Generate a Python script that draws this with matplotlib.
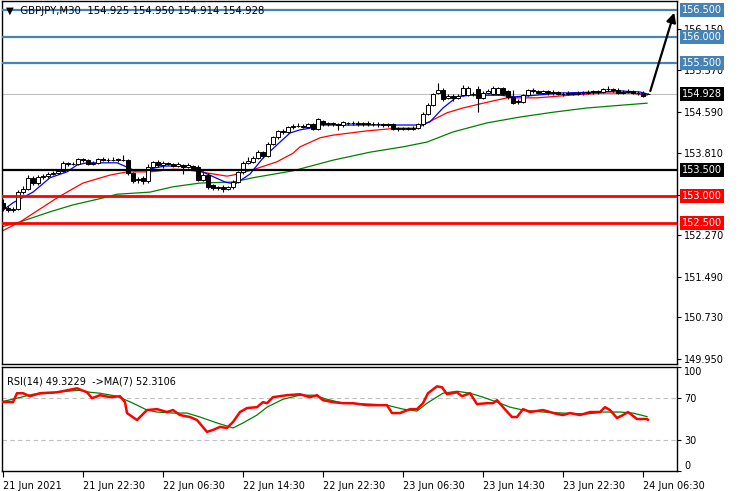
import matplotlib
matplotlib.use("Agg")
import matplotlib.pyplot as plt
from matplotlib.transforms import blended_transform_factory

# GBPJPY M30 bars (bar 0 = 21 Jun 14:30)
opens = [152.88, 152.78, 152.74, 152.76, 153.08, 153.14, 153.34, 153.26, 153.36, 153.38,
         153.42, 153.44, 153.47, 153.62, 153.60, 153.60, 153.70, 153.68, 153.60, 153.63,
         153.70, 153.68, 153.69, 153.68, 153.69, 153.68, 153.44, 153.30, 153.34, 153.28,
         153.56, 153.65, 153.58, 153.62, 153.60, 153.57, 153.58, 153.56, 153.57, 153.55,
         153.30, 153.40, 153.22, 153.15, 153.17, 153.14, 153.17, 153.27, 153.45, 153.63,
         153.65, 153.72, 153.84, 153.76, 153.98, 154.11, 154.22, 154.21, 154.30, 154.32,
         154.33, 154.30, 154.35, 154.27, 154.42, 154.36, 154.37, 154.36, 154.34, 154.38,
         154.37, 154.38, 154.36, 154.37, 154.35, 154.36, 154.35, 154.34, 154.35, 154.28,
         154.26, 154.28, 154.27, 154.29, 154.35, 154.55, 154.72, 154.95, 155.00, 154.85,
         154.88, 154.85, 154.90, 154.90, 154.93, 155.02, 154.85, 154.95, 154.92, 154.93,
         155.03, 154.98, 154.86, 154.78, 154.78, 154.90, 155.00, 154.97, 154.95, 154.97,
         154.94, 154.96, 154.93, 154.92, 154.94, 154.93, 154.95, 154.94, 154.96, 154.97,
         154.96, 155.01, 155.02, 155.00, 154.94, 154.96, 154.98, 154.95, 154.95, 154.925]
highs = [152.95, 152.82, 152.80, 153.12, 153.20, 153.40, 153.38, 153.40, 153.42, 153.45,
         153.48, 153.50, 153.66, 153.64, 153.65, 153.72, 153.72, 153.70, 153.66, 153.72,
         153.73, 153.72, 153.73, 153.72, 153.78, 153.70, 153.46, 153.36, 153.38, 153.60,
         153.66, 153.68, 153.67, 153.64, 153.63, 153.64, 153.60, 153.62, 153.59, 153.58,
         153.48, 153.44, 153.24, 153.20, 153.22, 153.20, 153.30, 153.48, 153.66, 153.74,
         153.76, 153.88, 153.86, 154.02, 154.14, 154.25, 154.26, 154.33, 154.35, 154.38,
         154.36, 154.38, 154.37, 154.48, 154.44, 154.40, 154.40, 154.38, 154.41, 154.40,
         154.41, 154.42, 154.40, 154.42, 154.39, 154.40, 154.38, 154.38, 154.37, 154.30,
         154.31, 154.30, 154.32, 154.38, 154.58, 154.75, 154.95, 155.12, 155.04, 154.92,
         154.92, 154.92, 155.10, 155.08, 154.96, 155.08, 154.98, 155.02, 155.08, 155.06,
         155.05, 155.00, 155.00, 154.82, 154.93, 155.02, 155.03, 155.00, 155.00, 155.00,
         154.99, 154.98, 154.96, 154.97, 154.96, 154.98, 154.98, 154.99, 155.00, 155.00,
         155.04, 155.08, 155.04, 155.03, 155.00, 155.01, 155.00, 154.98, 154.97, 154.950]
lows = [152.72, 152.70, 152.71, 152.74, 153.04, 153.12, 153.22, 153.22, 153.33, 153.35,
        153.40, 153.42, 153.45, 153.57, 153.58, 153.58, 153.65, 153.58, 153.58, 153.61,
        153.66, 153.65, 153.66, 153.65, 153.66, 153.40, 153.25, 153.26, 153.24, 153.26,
        153.53, 153.55, 153.54, 153.58, 153.55, 153.55, 153.42, 153.54, 153.50, 153.28,
        153.28, 153.14, 153.12, 153.12, 153.08, 153.12, 153.14, 153.25, 153.42, 153.60,
        153.62, 153.70, 153.72, 153.74, 153.96, 154.08, 154.17, 154.19, 154.27, 154.30,
        154.28, 154.28, 154.25, 154.25, 154.33, 154.33, 154.32, 154.24, 154.31, 154.34,
        154.34, 154.33, 154.33, 154.32, 154.32, 154.31, 154.31, 154.30, 154.25, 154.23,
        154.24, 154.24, 154.25, 154.27, 154.33, 154.52, 154.70, 154.93, 154.79, 154.83,
        154.80, 154.82, 154.88, 154.88, 154.89, 154.58, 154.82, 154.93, 154.90, 154.90,
        154.90, 154.83, 154.73, 154.74, 154.76, 154.88, 154.95, 154.92, 154.92, 154.91,
        154.91, 154.90, 154.88, 154.90, 154.90, 154.91, 154.91, 154.92, 154.93, 154.93,
        154.94, 154.98, 154.96, 154.92, 154.92, 154.94, 154.92, 154.91, 154.86, 154.914]
closes = [152.78, 152.74, 152.76, 153.08, 153.14, 153.34, 153.26, 153.36, 153.38, 153.42,
          153.44, 153.47, 153.62, 153.60, 153.61, 153.70, 153.68, 153.60, 153.63, 153.70,
          153.68, 153.69, 153.68, 153.70, 153.68, 153.44, 153.28, 153.33, 153.28, 153.56,
          153.64, 153.58, 153.63, 153.60, 153.57, 153.60, 153.55, 153.58, 153.53, 153.30,
          153.40, 153.17, 153.15, 153.17, 153.14, 153.17, 153.27, 153.45, 153.63, 153.66,
          153.72, 153.84, 153.76, 153.98, 154.11, 154.22, 154.21, 154.30, 154.32, 154.33,
          154.31, 154.35, 154.27, 154.45, 154.36, 154.37, 154.35, 154.34, 154.39, 154.37,
          154.38, 154.36, 154.37, 154.35, 154.36, 154.35, 154.34, 154.35, 154.27, 154.26,
          154.28, 154.27, 154.29, 154.35, 154.55, 154.72, 154.92, 155.00, 154.82, 154.88,
          154.84, 154.88, 155.03, 155.04, 154.92, 154.85, 154.95, 154.98, 155.04, 155.03,
          154.93, 154.86, 154.76, 154.79, 154.90, 155.00, 154.98, 154.95, 154.97, 154.94,
          154.96, 154.93, 154.92, 154.94, 154.93, 154.95, 154.94, 154.96, 154.97, 154.96,
          155.01, 155.02, 154.99, 154.94, 154.96, 154.98, 154.95, 154.94, 154.89, 154.928]

# moving averages (bar position, price)
ma_fast_x = [0, 2, 6, 9.4, 12.8, 14.8, 16.8, 22.8, 24.8, 26.4, 28.4, 32.4, 37.4, 40.4, 44.4,
             46.4, 49.4, 52, 55.4, 57.4, 59.4, 61.4, 63.4, 83.4, 85.4, 88, 90.8, 93.4, 99.4,
             102.4, 105.4, 111.4, 119.4, 123.4, 127.4, 129]
ma_fast_y = [152.74, 152.88, 153.08, 153.35, 153.46, 153.59, 153.63, 153.63, 153.55, 153.48,
             153.50, 153.57, 153.57, 153.44, 153.27, 153.23, 153.42, 153.72, 154.02, 154.19,
             154.25, 154.28, 154.34, 154.34, 154.40, 154.66, 154.87, 154.90, 154.90, 154.87,
             154.89, 154.94, 154.96, 154.98, 154.96, 154.92]
ma_mid_x = [-0.6, 3.4, 10.8, 12.8, 16, 21.4, 24.8, 29.4, 34, 36.8, 40.8, 44.8, 46, 50, 54.8,
            58, 59.4, 63.4, 66, 72.8, 78.8, 82.8, 84.8, 88.8, 92, 96, 100.8, 106.8, 113.4,
            120, 125.4, 128.8]
ma_mid_y = [152.33, 152.52, 152.97, 153.08, 153.25, 153.40, 153.46, 153.46, 153.51, 153.50,
            153.44, 153.38, 153.40, 153.50, 153.65, 153.81, 153.93, 154.10, 154.15, 154.23,
            154.28, 154.28, 154.38, 154.57, 154.66, 154.75, 154.85, 154.85, 154.90, 154.94,
            154.94, 154.90]
ma_slow_x = [-0.6, 3.4, 9.4, 14, 20, 22.8, 29.4, 34, 39.4, 46, 50, 58, 66, 73.4, 80, 84.8, 90,
             96.8, 103.4, 110, 116.8, 123.4, 128.8]
ma_slow_y = [152.42, 152.52, 152.71, 152.84, 152.97, 153.04, 153.08, 153.18, 153.25, 153.27,
             153.35, 153.48, 153.68, 153.83, 153.93, 154.02, 154.21, 154.38, 154.49, 154.58,
             154.66, 154.71, 154.75]

# RSI(14) and its MA(7)
rsi_x = [-0.6, 2, 2.8, 4, 5.4, 7.4, 10.8, 12.8, 14.8, 16.8, 17.8, 19.4, 21.4, 23.4, 24.4, 24.8,
         26.8, 28.8, 30.8, 32.8, 34, 35.4, 37.4, 38.8, 40.8, 42, 43.4, 44.8, 46, 47.4, 48.8,
         50.8, 52, 52.8, 54, 56.8, 59.4, 61.4, 62.8, 64, 66, 68, 70, 72.8, 76.8, 77.8, 79.4,
         81.4, 82.8, 84, 85, 86.8, 87.8, 88.8, 90.8, 91.8, 93.4, 94.8, 96.8, 98, 98.8, 100,
         101.8, 102.8, 104, 105.4, 108, 110.8, 112, 113.4, 115.4, 117.4, 119.4, 120.4, 121.4,
         122.8, 124, 125, 126.8, 128.8, 129]
rsi_y = [66.5, 66.2, 74.8, 74.8, 71.9, 74.8, 75.7, 77.6, 79.5, 75.7, 70.0, 72.9, 71.0, 71.9,
         66.2, 55.7, 49.0, 58.6, 59.5, 56.7, 58.6, 53.8, 51.9, 49.0, 37.6, 39.5, 42.4, 41.4,
         47.1, 56.7, 60.5, 61.4, 66.2, 65.2, 71.0, 72.9, 73.8, 71.0, 72.9, 68.1, 66.2, 65.2,
         65.2, 63.3, 63.3, 55.7, 55.7, 59.5, 59.5, 65.2, 74.8, 81.4, 80.5, 73.8, 75.7, 71.9,
         74.8, 64.3, 65.2, 65.2, 68.1, 61.4, 51.9, 51.9, 59.5, 56.7, 58.6, 54.8, 53.8, 55.7,
         53.8, 56.7, 56.7, 61.4, 58.6, 51.0, 53.8, 56.7, 50.0, 50.0, 49.3]
rsi_ma_x = [-0.6, 2.8, 6, 9.4, 12.8, 15.4, 17.4, 19.4, 22.8, 26, 28.8, 30.8, 34, 36.8, 39.4,
            42.8, 46, 48, 50.8, 52.8, 56, 59.4, 62, 64.8, 68, 73.4, 76.8, 80, 82.8, 84.8, 88,
            90.8, 93.4, 96, 98.8, 101.4, 104, 108, 112, 116.8, 120, 123.4, 126, 128.8]
rsi_ma_y = [66.2, 70.0, 73.8, 74.8, 76.7, 77.6, 75.7, 74.8, 71.9, 65.2, 58.6, 56.7, 55.7, 55.7,
            51.9, 46.2, 41.4, 46.2, 53.8, 61.4, 69.0, 72.9, 72.9, 69.0, 65.2, 64.3, 63.3, 59.5,
            57.6, 65.2, 74.8, 76.7, 74.8, 71.0, 66.2, 61.4, 58.6, 56.7, 55.7, 54.8, 56.7, 56.7,
            55.7, 52.3]

price_ticks = [156.150, 155.370, 154.590, 153.810, 153.030, 152.270, 151.490, 150.730, 149.950]
time_ticks = [0, 16, 32, 48, 64, 80, 96, 112, 128]
time_labels = ['21 Jun 2021', '21 Jun 22:30', '22 Jun 06:30', '22 Jun 14:30', '22 Jun 22:30',
               '23 Jun 06:30', '23 Jun 14:30', '23 Jun 22:30', '24 Jun 06:30']
levels_blue = [156.5, 156.0, 155.5]
levels_red = [153.0, 152.5]
level_black = 153.5
last_price = 154.928

fs = 7
steel = '#4682b4'

fig = plt.figure(figsize=(7.38, 4.91), dpi=100)
ax = fig.add_axes([2 / 738, 1 - 364 / 491, 675 / 738, 363 / 491])
ax2 = fig.add_axes([2 / 738, 1 - 471 / 491, 675 / 738, 104 / 491], sharex=ax)

# candles
for i in range(len(closes)):
    o, h, l, c = opens[i], highs[i], lows[i], closes[i]
    ax.vlines(i, l, h, color='black', lw=0.8, zorder=3)
    bottom = min(o, c)
    height = max(abs(c - o), 0.004)
    fc = 'white' if c >= o else 'black'
    ax.bar(i, height, bottom=bottom, width=0.62, color=fc, edgecolor='black', lw=0.7, zorder=3.1)

ax.plot(ma_slow_x, ma_slow_y, color='#008000', lw=0.9, zorder=2)
ax.plot(ma_mid_x, ma_mid_y, color='#ff0000', lw=0.9, zorder=2)
ax.plot(ma_fast_x, ma_fast_y, color='#0000ff', lw=0.9, zorder=2)

ax.axhline(last_price, color='#c0c0c0', lw=0.8, zorder=1)
for lv in levels_blue:
    ax.axhline(lv, color=steel, lw=1.6, zorder=4)
for lv in levels_red:
    ax.axhline(lv, color='#ff0000', lw=2.0, zorder=4)
ax.axhline(level_black, color='black', lw=1.6, zorder=4)

ax.annotate('', xy=(134.4, 156.5), xytext=(129.3, last_price),
            arrowprops=dict(arrowstyle='-|>', color='black', lw=1.6, mutation_scale=14),
            zorder=5)

ax.set_xlim(-0.2, 134.8)
ax.set_ylim(149.852, 156.669)
ax.yaxis.tick_right()
ax.set_yticks(price_ticks)
ax.set_yticklabels(['%.3f' % t for t in price_ticks])
ax.tick_params(axis='y', direction='out', length=3, width=0.8, labelsize=fs, pad=2)
ax.tick_params(axis='x', bottom=False, labelbottom=False)
for s in ax.spines.values():
    s.set_linewidth(1.0)

tr = blended_transform_factory(ax.transAxes, ax.transData)
boxes = [(156.5, steel, 'white'), (156.0, steel, 'white'), (155.5, steel, 'white'),
         (last_price, 'black', 'white'), (153.5, 'black', 'white'),
         (153.0, '#ff0000', 'white'), (152.5, '#ff0000', 'white')]
for val, bg, fg in boxes:
    ax.text(1.0075, val, '%.3f' % val, transform=tr, ha='left', va='center', fontsize=fs,
            color=fg, clip_on=False, zorder=6,
            bbox=dict(boxstyle='square,pad=0.2', fc=bg, ec='none'))

ax.text(0.006, 0.9715, '\u25bc  GBPJPY,M30  154.925 154.950 154.914 154.928',
        transform=ax.transAxes, fontsize=7.3, ha='left', va='center', zorder=6)

# RSI pane
ax2.plot(rsi_ma_x, rsi_ma_y, color='#008000', lw=0.9, zorder=2)
ax2.plot(rsi_x, rsi_y, color='#ff0000', lw=1.8, zorder=3)
for lv in [70, 30]:
    ax2.axhline(lv, color='#c0c0c0', lw=0.8, ls=(0, (4, 3)), zorder=1)
ax2.set_ylim(0, 100)
ax2.yaxis.tick_right()
ax2.set_yticks([100, 70, 30, 0])
ax2.set_yticklabels(['100', '70', '30', '0'])
ax2.tick_params(axis='y', direction='out', length=3, width=0.8, labelsize=fs, pad=2)
labs = ax2.get_yticklabels()
labs[0].set_va('top')
labs[-1].set_va('bottom')
ax2.set_xticks(time_ticks)
ax2.set_xticklabels(time_labels, ha='left')
ax2.tick_params(axis='x', direction='out', length=4, width=0.8, labelsize=fs, pad=3)
for s in ax2.spines.values():
    s.set_linewidth(1.0)
ax2.text(0.007, 0.86, 'RSI(14) 49.3229  ->MA(7) 52.3106', transform=ax2.transAxes,
         fontsize=fs, ha='left', va='center')

fig.savefig('out.png', dpi=100)
